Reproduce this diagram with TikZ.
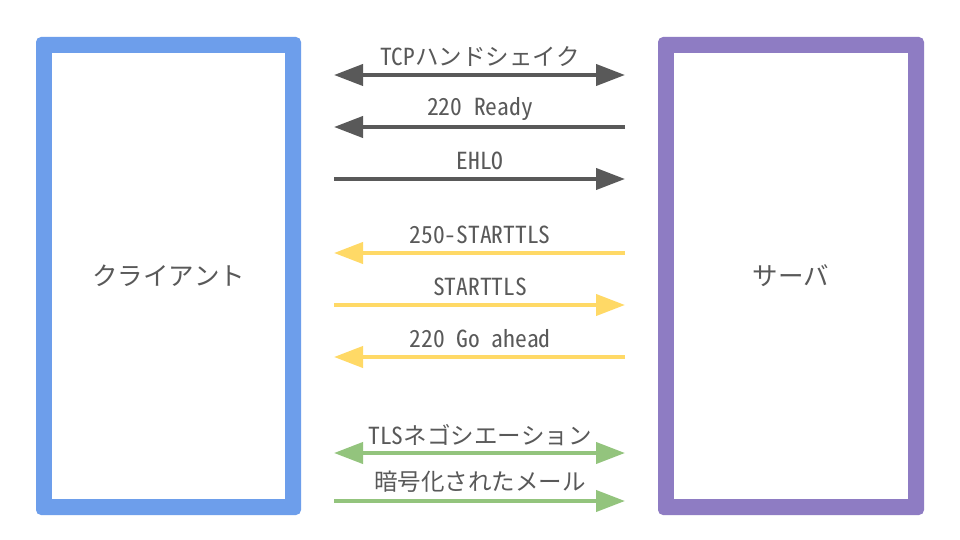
\documentclass[tikz,border=0pt]{standalone}
\usepackage{fontspec}
\setmainfont{Noto Sans Mono CJK JP}
\usetikzlibrary{arrows.meta}
\definecolor{cblue}{HTML}{6D9EEB}
\definecolor{cpurple}{HTML}{8E7CC3}
\definecolor{cgray}{HTML}{595959}
\definecolor{cyellow}{HTML}{FFD966}
\definecolor{cgreen}{HTML}{93C47D}
\definecolor{ctext}{HTML}{595959}
\begin{document}
\begin{tikzpicture}[x=1pt,y=-1pt,
  frame/.style={fill=#1,rounded corners=5pt},
  hole/.style={fill=white},
  plbl/.style={text=ctext,font=\fontsize{25.5}{30}\selectfont},
  msg/.style={line width=4pt,draw=#1,arrows={-Triangle[length=29pt,width=21pt,#1]}},
  bimsg/.style={line width=4pt,draw=#1,arrows={Triangle[length=29pt,width=21pt,#1]-Triangle[length=29pt,width=21pt,#1]}},
  lbl/.style={text=ctext,font=\fontsize{23.5}{27}\selectfont,inner sep=0pt}]
\useasboundingbox (0,0) rectangle (960,540);
\fill[white] (0,0) rectangle (960,540);
\path[frame=cblue] (36,37) rectangle (301,515);
\path[hole] (52,53) rectangle (285,499);
\node[plbl] (client) at (168.5,276) {クライアント};
\path[frame=cpurple] (658,37) rectangle (924,515);
\path[hole] (674,53) rectangle (908,499);
\node[plbl] (server) at (791,276) {サーバ};
% coordinates
\foreach \i/\y in {1/75,2/127,3/179,4/253,5/305,6/357,7/453,8/501}{
  \coordinate (L\i) at (334,\y);
  \coordinate (R\i) at (625,\y);
}
\draw[bimsg=cgray] (L1) -- (R1);
\draw[msg=cgray] (R2) -- (L2);
\draw[msg=cgray] (L3) -- (R3);
\draw[msg=cyellow] (R4) -- (L4);
\draw[msg=cyellow] (L5) -- (R5);
\draw[msg=cyellow] (R6) -- (L6);
\draw[bimsg=cgreen] (L7) -- (R7);
\draw[msg=cgreen] (L8) -- (R8);
\node[lbl] (t1) at (480,57) {TCPハンドシェイク};
\node[lbl] (t2) at (480,109) {220 Ready};
\node[lbl] (t3) at (480,161) {EHLO};
\node[lbl] (t4) at (480,235) {250-STARTTLS};
\node[lbl] (t5) at (480,287) {STARTTLS};
\node[lbl] (t6) at (480,339) {220 Go ahead};
\node[lbl] (t7) at (480,435) {TLSネゴシエーション};
\node[lbl] (t8) at (480,482) {暗号化されたメール};
\end{tikzpicture}
\end{document}
